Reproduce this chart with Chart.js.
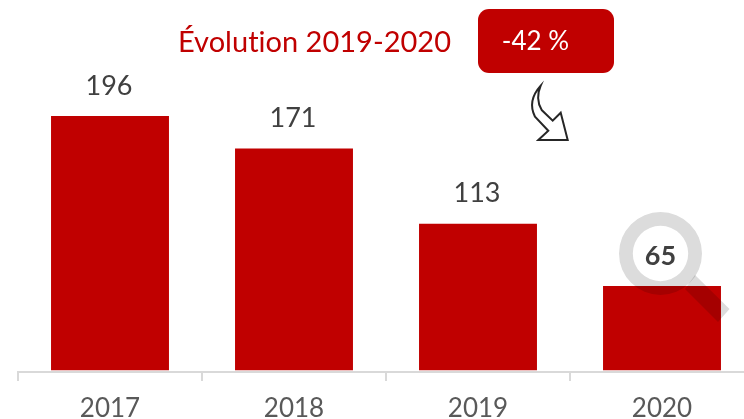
<!DOCTYPE html>
<html><head><meta charset="utf-8">
<style>html,body{margin:0;padding:0;background:#fff;width:744px;height:419px;overflow:hidden}canvas{display:block}</style>
<script src="https://cdn.jsdelivr.net/npm/chart.js@4/dist/chart.umd.min.js"></script>
</head><body><canvas id="c" width="770" height="419"></canvas>
<script>
const categories = ["2017","2018","2019","2020"];
const values = [196,171,113,65];
const titleText = "Évolution 2019-2020";
const changeText = "-42 %";
const RED = "#C00000";

const overlay = {
  id:"overlay",
  afterDatasetsDraw(chart){
    const {ctx,scales:{x,y}} = chart;
    ctx.save();
    const cx = x.getPixelForValue(3)-1.5, cy = 253.5;
    ctx.globalCompositeOperation="multiply";
    ctx.fillStyle="#dcdcdc";
    ctx.beginPath();
    ctx.arc(cx,cy,41.5,0,Math.PI*2);
    ctx.arc(cx,cy,27.7,0,Math.PI*2,true);
    ctx.fill("evenodd");
    ctx.beginPath();
    ctx.moveTo(cx+34.5,cy+21.5);ctx.lineTo(cx+69,cy+55.5);ctx.lineTo(cx+57.5,cy+68.5);ctx.lineTo(cx+24.5,cy+35.5);
    ctx.closePath();ctx.fill();
    ctx.globalCompositeOperation="source-over";
    ctx.textAlign="center";ctx.textBaseline="middle";
    values.forEach((v,i)=>{
      const px=x.getPixelForValue(i);
      if(i===3){
        ctx.font="bold 27px Lato";ctx.fillStyle="#404040";
        ctx.fillText(String(v),cx,cy+3);
      }else{
        ctx.font="27px Lato";ctx.fillStyle="#404040";
        ctx.fillText(String(v),px-1,y.getPixelForValue(v)-30);
      }
    });
    ctx.letterSpacing="0.01px";
    ctx.font="29px Lato";ctx.fillStyle=RED;ctx.textAlign="left";
    ctx.fillText(titleText,178,43);
    ctx.letterSpacing="0px";
    ctx.fillStyle=RED;
    ctx.beginPath();ctx.roundRect(478,9,136,64,11);ctx.fill();
    ctx.fillStyle="#fff";ctx.font="26px Lato";ctx.textAlign="center";
    ctx.fillText(changeText,535.5,42);
    ctx.strokeStyle="#262626";ctx.lineWidth=2;ctx.fillStyle="#fff";ctx.lineJoin="miter";
    ctx.beginPath();
    ctx.moveTo(540.7,85.7);
    ctx.quadraticCurveTo(527,101,535,116.7);
    ctx.lineTo(548.3,130.7);ctx.lineTo(538.3,140);ctx.lineTo(567.7,140);ctx.lineTo(560.7,112.7);ctx.lineTo(552.7,120.7);ctx.lineTo(541.7,110);
    ctx.quadraticCurveTo(535,99,540.7,85.7);
    ctx.closePath();ctx.fill();ctx.stroke();
    ctx.restore();
  }
};

new Chart(document.getElementById("c"),{
  type:"bar",
  data:{labels:categories,datasets:[{data:values,backgroundColor:RED,borderWidth:0,categoryPercentage:0.641,barPercentage:1}]},
  options:{
    responsive:false,animation:false,
    layout:{padding:{left:18,right:16,top:0,bottom:0}},
    plugins:{legend:{display:false},tooltip:{enabled:false},title:{display:false}},
    scales:{
      x:{
        offset:true,
        afterFit(s){s.height=47;},
        grid:{drawOnChartArea:false,drawTicks:true,tickLength:9,color:"#d9d9d9",lineWidth:2,offset:true},
        border:{color:"#d9d9d9",width:2},
        ticks:{color:"#595959",font:{family:"Lato",size:26},padding:12,maxRotation:0}
      },
      y:{display:false,min:-1.4,max:285.5}
    }
  },
  plugins:[overlay]
});
</script></body></html>
